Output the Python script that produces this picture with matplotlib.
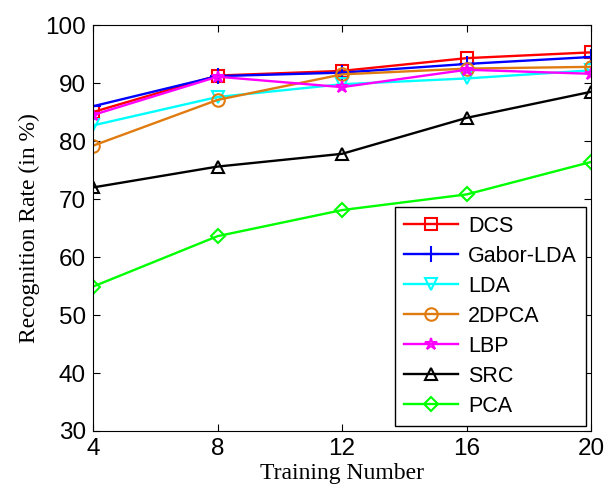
import matplotlib
matplotlib.use('Agg')
import matplotlib.pyplot as plt

train_num = [4, 8, 12, 16, 20]
dcs = [85.0, 91.3, 92.1, 94.3, 95.3]
gabor_lda = [86.0, 91.2, 91.8, 93.3, 94.5]
lda = [82.7, 87.6, 89.8, 90.8, 92.2]
pca2d = [79.2, 87.1, 91.5, 92.5, 92.8]
lbp = [84.5, 91.1, 89.3, 92.3, 91.6]
src = [72.0, 75.6, 77.8, 84.0, 88.5]
pca = [54.9, 63.6, 68.1, 70.8, 76.4]

names = ['DCS', 'Gabor-LDA', 'LDA', '2DPCA', 'LBP', 'SRC', 'PCA']
colors = ['#ff0000', '#0000ff', '#00ffff', '#e07b10', '#ff00ff', '#000000', '#00ff00']
markers = ['s', '+', 'v', 'o', '*', '^', 'D']
series = [dcs, gabor_lda, lda, pca2d, lbp, src, pca]

fig = plt.figure(figsize=(6.06, 4.92), dpi=100)
ax = fig.add_axes([0.1535, 0.124, 0.822, 0.825])

for vals, name, c, m in zip(series, names, colors, markers):
    ms = 7 if m == 'D' else 9
    if m == '+':
        ms = 12
    ax.plot(train_num, vals, color=c, marker=m, markersize=ms, linewidth=1.7,
            markerfacecolor='none', markeredgecolor=c, markeredgewidth=1.5,
            label=name)

ax.set_xlim(4, 20)
ax.set_ylim(30, 100)
ax.set_xticks(train_num)
ax.set_yticks(range(30, 101, 10))
ax.tick_params(direction='in', top=True, right=True, length=5,
               labelsize=17.5, pad=5)
for lbl in ax.get_xticklabels() + ax.get_yticklabels():
    lbl.set_fontfamily('Liberation Sans')

ax.set_xlabel('Training Number', family='Liberation Serif', fontsize=17, labelpad=2)
ax.set_ylabel('Recognition Rate (in %)', family='Liberation Serif', fontsize=17, labelpad=4)

leg = ax.legend(loc='lower right', prop={'family': 'Liberation Sans', 'size': 15.5},
                fancybox=False, edgecolor='black', framealpha=1,
                handlelength=2.5, labelspacing=0.42, borderaxespad=0.25,
                handletextpad=0.5)
leg.get_frame().set_linewidth(1.0)

plt.savefig('out.png', dpi=100)
